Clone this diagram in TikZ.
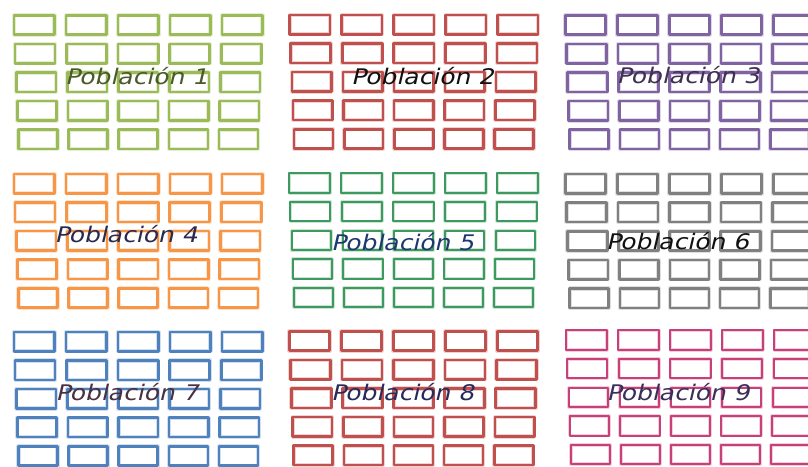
\documentclass[tikz,border=0pt]{standalone}
\usepackage{fontspec}
\newfontfamily\lblfont{DejaVu Sans}[FakeSlant=0.2]
\definecolor{gA}{HTML}{9BBB59}
\definecolor{rB}{HTML}{C0504D}
\definecolor{pC}{HTML}{8064A2}
\definecolor{oD}{HTML}{F79646}
\definecolor{gE}{HTML}{3C9A5E}
\definecolor{yF}{HTML}{808080}
\definecolor{bG}{HTML}{4F81BD}
\definecolor{mI}{HTML}{C8407A}
\definecolor{tA}{HTML}{4A5A2A}
\definecolor{tB}{HTML}{111111}
\definecolor{tC}{HTML}{3F3151}
\definecolor{tD}{HTML}{2A2A50}
\definecolor{tE}{HTML}{1F3870}
\definecolor{tF}{HTML}{111111}
\definecolor{tG}{HTML}{4A3040}
\definecolor{tH}{HTML}{2A2A5A}
\definecolor{tI}{HTML}{3A2F5A}
\tikzset{
  cell/.style={draw=#1, line join=round},
  glow/.style={draw=#1, draw opacity=0.25, line join=round},
  poplabel/.style={anchor=base, inner sep=0pt, font=\lblfont\fontsize{21.5}{24}\selectfont}
}
\newcommand\popgrid[4]{%
  \foreach \r in {0,...,4}{%
    \pgfmathsetmacro\sfac{1-0.009*\r}%
    \begin{scope}[shift={(#1+125.5,#2+28.6*\r)}, xscale=\sfac]
      \foreach \c in {0,...,4}{%
        \draw[glow=#3, line width=#4+1.6pt] (-125.5+52*\c+1.3,1.3) rectangle ++(40.4,19.4);
        \draw[cell=#3, line width=#4] (-125.5+52*\c+1.3,1.3) rectangle ++(40.4,19.4);
      }
    \end{scope}
  }%
}
\begin{document}
\begin{tikzpicture}[x=1pt,y=-1pt]
\useasboundingbox (0,0) rectangle (808,466);
\clip (0,0) rectangle (808,466);
\fill[white] (0,0) rectangle (808,466);
% row 1
\popgrid{12.7}{14}{gA}{2.6pt}
\popgrid{288.3}{13.5}{rB}{2.6pt}
\popgrid{564}{14}{pC}{2.6pt}
% row 2
\popgrid{12.7}{172.5}{oD}{2.6pt}
\popgrid{288}{172}{gE}{2pt}
\popgrid{564}{172.7}{yF}{2.6pt}
% row 3
\popgrid{12.7}{330.5}{bG}{2.6pt}
\popgrid{288}{330}{rB}{2.6pt}
\popgrid{565}{329}{mI}{2pt}
% labels
\node[poplabel, text=tA] (p1) at (136.5,84) {\scalebox{1.16}[1]{Población 1}};
\node[poplabel, text=tB] (p2) at (422.5,84) {\scalebox{1.16}[1]{Población 2}};
\node[poplabel, text=tC] (p3) at (688,83) {\scalebox{1.16}[1]{Población 3}};
\node[poplabel, text=tD] (p4) at (126,242) {\scalebox{1.16}[1]{Población 4}};
\node[poplabel, text=tE] (p5) at (402.5,250) {\scalebox{1.16}[1]{Población 5}};
\node[poplabel, text=tF] (p6) at (677.5,249) {\scalebox{1.16}[1]{Población 6}};
\node[poplabel, text=tG] (p7) at (127,400.7) {\scalebox{1.16}[1]{Población 7}};
\node[poplabel, text=tH] (p8) at (402.5,400.7) {\scalebox{1.16}[1]{Población 8}};
\node[poplabel, text=tI] (p9) at (678,400.7) {\scalebox{1.16}[1]{Población 9}};
\end{tikzpicture}
\end{document}
